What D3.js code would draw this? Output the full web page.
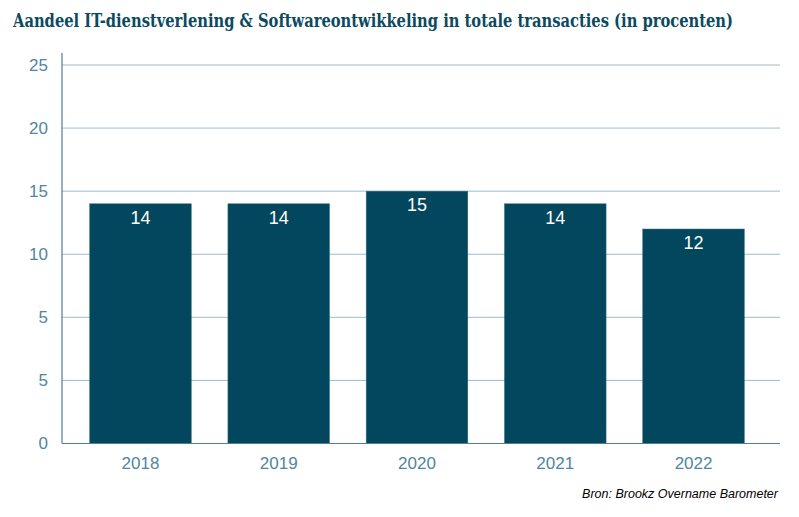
<!DOCTYPE html>
<html>
<head>
    <script src="https://d3js.org/d3.v7.min.js"></script>
    <style>
        body { margin: 0; background: #fff; }
        text { font-family: "Liberation Sans", Arial, sans-serif; }
    </style>
</head>
<body>
    <div id="chart"></div>
    <script>
        // data
        const years = ["2018", "2019", "2020", "2021", "2022"];
        const shares = [14, 14, 15, 14, 12];
        // the original axis repeats "5": positions are even, labels are as printed
        const tickPositions = [-5, 0, 5, 10, 15, 20, 25];
        const tickLabels = ["0", "5", "5", "10", "15", "20", "25"];

        const width = 799, height = 517;
        const plot = { left: 62, right: 780, top: 65, bottom: 443.5 };

        const svg = d3.select("#chart").append("svg")
            .attr("width", width)
            .attr("height", height);

        // title (slab serif stand-in, stretched a little taller)
        svg.append("text")
            .attr("transform", "translate(13,27) scale(1,1.12)")
            .attr("textLength", 720)
            .attr("lengthAdjust", "spacingAndGlyphs")
            .style("font-family", "'DejaVu Serif', serif")
            .style("font-weight", "bold")
            .style("font-size", "16px")
            .style("fill", "#0b4a60")
            .text("Aandeel IT-dienstverlening & Softwareontwikkeling in totale transacties (in procenten)");

        const x = d3.scaleBand()
            .domain(years)
            .range([plot.left, 772])
            .paddingInner(0.265)
            .paddingOuter(0.2);

        const y = d3.scaleLinear()
            .domain([-5, 25])
            .range([plot.bottom, plot.top]);

        // gridlines
        svg.append("g")
            .selectAll("line")
            .data(tickPositions.slice(1))
            .join("line")
            .attr("x1", plot.left)
            .attr("x2", plot.right)
            .attr("y1", d => y(d))
            .attr("y2", d => y(d))
            .attr("stroke", "#9dbccb")
            .attr("stroke-width", 1);

        // y axis
        const yAxis = svg.append("g")
            .attr("transform", `translate(${plot.left},0)`)
            .call(d3.axisLeft(y)
                .tickValues(tickPositions)
                .tickFormat((d, i) => tickLabels[i])
                .tickSize(0)
                .tickPadding(14));
        yAxis.select(".domain").remove();
        yAxis.selectAll("text")
            .style("font-size", "17px")
            .style("fill", "#4f86a0");

        // bars
        svg.append("g")
            .selectAll("rect")
            .data(shares)
            .join("rect")
            .attr("x", (d, i) => x(years[i]))
            .attr("y", d => y(d))
            .attr("width", x.bandwidth())
            .attr("height", d => y(-5) - y(d))
            .attr("fill", "#02475e")
            .attr("stroke", "#3d6f84")
            .attr("stroke-width", 0.5);

        // value labels
        svg.append("g")
            .selectAll("text")
            .data(shares)
            .join("text")
            .attr("x", (d, i) => x(years[i]) + x.bandwidth() / 2)
            .attr("y", d => y(d) + 20)
            .attr("text-anchor", "middle")
            .style("font-size", "18px")
            .style("fill", "#fff")
            .text(d => d);

        // axis lines
        svg.append("line")
            .attr("x1", plot.left).attr("x2", plot.left)
            .attr("y1", 53).attr("y2", plot.bottom)
            .attr("stroke", "#4f7f95")
            .attr("stroke-width", 1.2);
        svg.append("line")
            .attr("x1", plot.left).attr("x2", plot.right)
            .attr("y1", plot.bottom).attr("y2", plot.bottom)
            .attr("stroke", "#4f7f95")
            .attr("stroke-width", 1.2);

        // x axis labels
        const xAxis = svg.append("g")
            .attr("transform", `translate(0,${plot.bottom})`)
            .call(d3.axisBottom(x).tickSize(0).tickPadding(13));
        xAxis.select(".domain").remove();
        xAxis.selectAll("text")
            .style("font-size", "17px")
            .style("fill", "#4f86a0");

        // source
        svg.append("text")
            .attr("x", 778)
            .attr("y", 498)
            .attr("text-anchor", "end")
            .style("font-size", "12.5px")
            .style("font-style", "italic")
            .style("fill", "#000")
            .text("Bron: Brookz Overname Barometer");
    </script>
</body>
</html>
